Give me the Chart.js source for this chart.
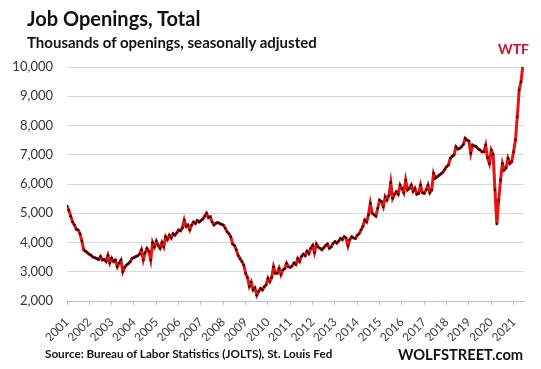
<!DOCTYPE html>
<html>
<head>
<meta charset="utf-8">
<script src="https://cdn.jsdelivr.net/npm/chart.js@4.4.1/dist/chart.umd.min.js"></script>
<style>
  body { margin: 0; background: #fff; }
  #wrap { position: relative; width: 541px; height: 369px; font-family: Lato, 'Noto Sans', sans-serif; }
  #myChart { position: absolute; left: 0; top: 0; }
  .txt { position: absolute; font-weight: bold; white-space: nowrap; line-height: 1; color: #111; }
</style>
</head>
<body>
<div id="wrap">
  <canvas id="myChart" width="541" height="369"></canvas>
  <div class="txt" id="title" style="left:27px; top:8px; font-size:20px;">Job Openings, Total</div>
  <div class="txt" id="subtitle" style="left:27px; top:35px; font-size:15px;">Thousands of openings, seasonally adjusted</div>
  <div class="txt" id="wtf" style="left:498px; top:42px; font-size:14px; color:#c8102e;">WTF</div>
  <div class="txt" id="source" style="left:45px; top:348px; font-size:11.7px;">Source: Bureau of Labor Statistics (JOLTS), St. Louis Fed</div>
  <div class="txt" id="brand" style="left:398px; top:347px; font-size:14.7px;">WOLFSTREET.com</div>
</div>
<script>
'use strict';

// ******* DATA *******

// monthly, starting January of startYear
let startYear = 2001;

// thousands of job openings, seasonally adjusted
let openings = [
  5250, 5100, 4900, 4700, 4600, 4450, 4430, 4300, 4050, 3750, 3700, 3650, // 2001
  3600, 3560, 3500, 3480, 3450, 3420, 3520, 3400, 3420, 3350, 3560, 3300, // 2002
  3460, 3350, 3400, 3170, 3300, 3400, 3000, 3150, 3230, 3280, 3345, 3460, // 2003
  3480, 3520, 3550, 3600, 3750, 3400, 3650, 3800, 3700, 3400, 4000, 3850, // 2004
  4050, 3900, 3800, 4000, 3850, 4200, 4100, 4250, 4150, 4300, 4250, 4330, // 2005
  4430, 4400, 4500, 4770, 4550, 4600, 4430, 4600, 4700, 4650, 4750, 4700, // 2006
  4750, 4800, 4900, 5000, 4850, 4880, 4700, 4600, 4660, 4680, 4650, 4620, // 2007
  4600, 4500, 4370, 4300, 4200, 3950, 3900, 3750, 3550, 3450, 3350, 3230, // 2008
  2950, 2800, 2500, 2650, 2380, 2450, 2200, 2330, 2430, 2380, 2490, 2550, // 2009
  2780, 2660, 2800, 3170, 2950, 2950, 3120, 2900, 3060, 3100, 3290, 3170, // 2010
  3150, 3200, 3300, 3250, 3450, 3350, 3520, 3600, 3550, 3700, 3620, 3800, // 2011
  3900, 3650, 3950, 3850, 3800, 3750, 3820, 3900, 3950, 3800, 3850, 3970, // 2012
  4030, 3980, 4050, 4140, 4100, 4200, 4150, 3880, 4100, 4200, 4150, 4140, // 2013
  4250, 4300, 4430, 4550, 4770, 4700, 4940, 5340, 5000, 4950, 4900, 5170, // 2014
  5450, 5400, 5224, 5565, 5450, 5600, 6050, 5510, 5650, 5735, 5650, 5965, // 2015
  5850, 5700, 6137, 5795, 5850, 5965, 5750, 5850, 5650, 5680, 5965, 5700, // 2016
  5680, 5800, 5965, 5700, 5795, 6365, 6200, 6250, 6300, 6350, 6400, 6500, // 2017
  6590, 6650, 6878, 6950, 6990, 7275, 7200, 7220, 7275, 7350, 7560, 7500, // 2018
  7470, 7050, 7333, 7300, 7275, 7200, 7162, 7104, 7100, 7333, 6900, 6700, // 2019
  7162, 7015, 5800, 4630, 5450, 6140, 6700, 6480, 6550, 6880, 6700, 6760, // 2020
  7104, 7504, 8300, 9213, 9500, 10068                                      // 2021
];

// tick labels
let tickYears = [2001, 2002, 2003, 2004, 2005, 2006, 2007, 2008, 2009, 2010, 2011,
  2012, 2013, 2014, 2015, 2016, 2017, 2018, 2019, 2020, 2021];
let yMin = 2000;
let yMax = 10000;
let yStep = 1000;


// ******* BUILD POINTS *******

let points = [];
for (let i = 0; i < openings.length; i++) {
  points.push({ x: startYear + i / 12, y: openings[i] });
}


// ******* CHART *******

const ctx = document.getElementById('myChart').getContext('2d');
const myChart = new Chart(ctx, {
  type: 'line',
  data: {
    datasets: [{
      data: points,
      borderColor: '#ec1010',
      borderWidth: 3,
      tension: 0,
      pointRadius: 1.25,
      pointBorderWidth: 0,
      pointBackgroundColor: '#1c0a0a'
    }]
  },
  options: {
    responsive: false,
    animation: false,
    devicePixelRatio: 1,
    layout: {
      padding: { top: 67, right: 17, bottom: 28, left: 0 }
    },
    plugins: {
      legend: { display: false },
      tooltip: { enabled: false }
    },
    scales: {
      x: {
        type: 'linear',
        min: startYear,
        max: startYear + (openings.length - 1) / 12 + 0.05,
        afterBuildTicks: (axis) => {
          axis.ticks = tickYears.map(v => ({ value: v }));
        },
        afterFit: (axis) => { axis.height = 40; },
        grid: {
          drawOnChartArea: false,
          tickLength: 4,
          color: '#bfbfbf'
        },
        border: { color: '#bfbfbf' },
        ticks: {
          autoSkip: false,
          minRotation: 45,
          maxRotation: 45,
          padding: 10,
          color: '#404040',
          font: { family: 'Lato', size: 12 },
          callback: (v) => String(v)
        }
      },
      y: {
        min: yMin,
        max: yMax,
        afterFit: (axis) => { axis.width = 67; },
        grid: {
          color: '#d9d9d9',
          drawTicks: false
        },
        border: { display: false },
        ticks: {
          stepSize: yStep,
          padding: 14,
          color: '#333',
          font: { family: 'Lato', size: 13 },
          callback: (v) => v.toLocaleString('en-US')
        }
      }
    }
  }
});
</script>
</body>
</html>
